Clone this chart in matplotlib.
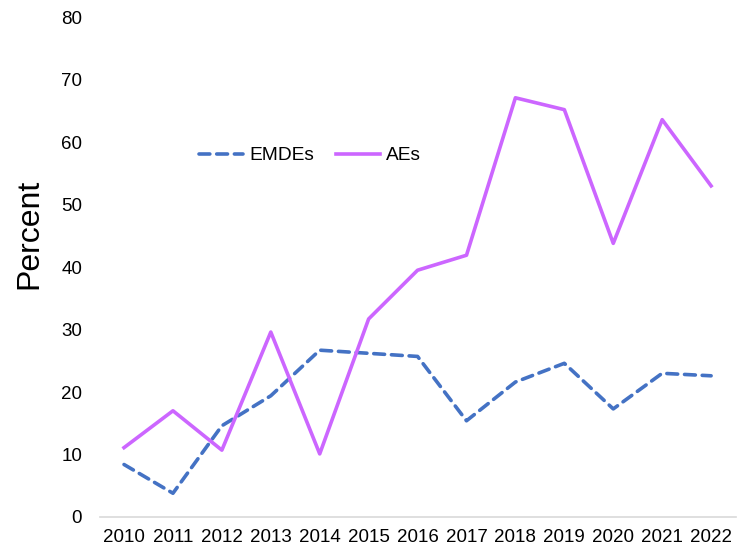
import numpy as np
import matplotlib.pyplot as plt

plt.rcParams['font.family'] = ['Liberation Sans', 'DejaVu Sans']

# data
years = ['2010', '2011', '2012', '2013', '2014', '2015', '2016',
         '2017', '2018', '2019', '2020', '2021', '2022']
emdes = [8.4, 3.8, 14.6, 19.4, 26.7, 26.2, 25.7, 15.4, 21.6, 24.6, 17.3, 23.0, 22.6]
aes = [11.1, 17.0, 10.7, 29.6, 10.1, 31.7, 39.5, 41.9, 67.1, 65.2, 43.8, 63.6, 53.0]

fig = plt.figure(figsize=(7.43, 5.55), dpi=100)
ax = fig.add_axes([0.134, 0.0685, 0.856, 0.9005])

x = np.arange(len(years))
ax.plot(x, emdes, color='#4472C4', lw=2.6, linestyle=(0, (3, 1.9)),
        dash_capstyle='round', label='EMDEs')
ax.plot(x, aes, color='#CC66FF', lw=2.6, label='AEs')

ax.set_xlim(-0.5, len(years) - 0.5)
ax.set_ylim(0, 80)
ax.set_yticks(range(0, 81, 10))
ax.set_xticks(x)
ax.set_xticklabels(years)
ax.tick_params(axis='both', length=0, labelsize=13.5, colors='#000000')
ax.tick_params(axis='y', pad=12.5)
ax.tick_params(axis='x', pad=9)

for s in ['top', 'right', 'left']:
    ax.spines[s].set_visible(False)
ax.spines['bottom'].set_color('#D9D9D9')
ax.spines['bottom'].set_linewidth(1.2)

ax.set_ylabel('Percent', fontsize=23)
ax.yaxis.set_label_coords(-0.086, 0.566)

ax.legend(loc='upper left', bbox_to_anchor=(0.144, 0.756), ncol=2, frameon=False,
          fontsize=13.8, handlelength=2.3, handletextpad=0.35, columnspacing=1.1,
          borderaxespad=0)

fig.savefig('out.png', dpi=100)
